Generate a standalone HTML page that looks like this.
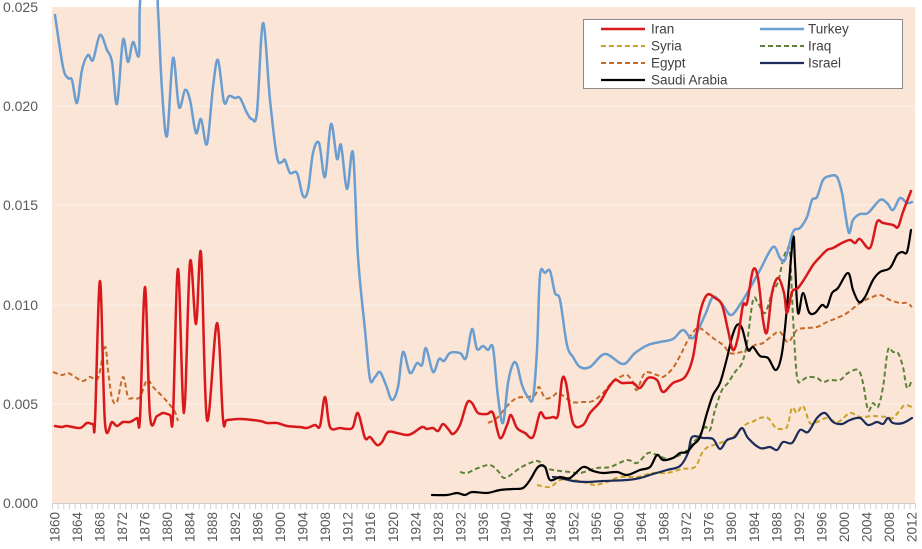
<!DOCTYPE html>
<html><head><meta charset="utf-8"><style>
html,body{margin:0;padding:0;background:#fff;}
svg{display:block;font-family:"Liberation Sans",sans-serif;}
</style></head><body>
<svg id="chart" width="922" height="549" viewBox="0 0 922 549" xmlns="http://www.w3.org/2000/svg">
<defs>
<pattern id="tk" patternUnits="userSpaceOnUse" x="52" y="503" width="5.641" height="6">
<rect x="0" y="0" width="1" height="6" fill="#d0d0d0"/>
</pattern>
</defs>
<rect x="52" y="7" width="863" height="496" fill="#FBE5D6"/>
<g stroke="#FDF1EA" stroke-width="1">
<line x1="52" x2="915" y1="106" y2="106"/>
<line x1="52" x2="915" y1="205" y2="205"/>
<line x1="52" x2="915" y1="305" y2="305"/>
<line x1="52" x2="915" y1="404" y2="404"/>
</g>
<line x1="52" x2="915" y1="503.5" y2="503.5" stroke="#d0d0d0" stroke-width="1"/>
<rect x="52" y="503" width="864" height="6" fill="url(#tk)"/>
<g font-size="14" fill="#595959" text-anchor="end">
<text x="38" y="12">0.025</text>
<text x="38" y="111">0.020</text>
<text x="38" y="210">0.015</text>
<text x="38" y="310">0.010</text>
<text x="38" y="409">0.005</text>
<text x="38" y="508">0.000</text>
</g>
<g font-size="13.5" fill="#595959" text-anchor="end" dominant-baseline="central">
<text transform="translate(54.8,512) rotate(-90)">1860</text>
<text transform="translate(77.4,512) rotate(-90)">1864</text>
<text transform="translate(99.9,512) rotate(-90)">1868</text>
<text transform="translate(122.5,512) rotate(-90)">1872</text>
<text transform="translate(145.1,512) rotate(-90)">1876</text>
<text transform="translate(167.6,512) rotate(-90)">1880</text>
<text transform="translate(190.2,512) rotate(-90)">1884</text>
<text transform="translate(212.7,512) rotate(-90)">1888</text>
<text transform="translate(235.3,512) rotate(-90)">1892</text>
<text transform="translate(257.9,512) rotate(-90)">1896</text>
<text transform="translate(280.4,512) rotate(-90)">1900</text>
<text transform="translate(303.0,512) rotate(-90)">1904</text>
<text transform="translate(325.6,512) rotate(-90)">1908</text>
<text transform="translate(348.1,512) rotate(-90)">1912</text>
<text transform="translate(370.7,512) rotate(-90)">1916</text>
<text transform="translate(393.3,512) rotate(-90)">1920</text>
<text transform="translate(415.8,512) rotate(-90)">1924</text>
<text transform="translate(438.4,512) rotate(-90)">1928</text>
<text transform="translate(460.9,512) rotate(-90)">1932</text>
<text transform="translate(483.5,512) rotate(-90)">1936</text>
<text transform="translate(506.1,512) rotate(-90)">1940</text>
<text transform="translate(528.6,512) rotate(-90)">1944</text>
<text transform="translate(551.2,512) rotate(-90)">1948</text>
<text transform="translate(573.8,512) rotate(-90)">1952</text>
<text transform="translate(596.3,512) rotate(-90)">1956</text>
<text transform="translate(618.9,512) rotate(-90)">1960</text>
<text transform="translate(641.5,512) rotate(-90)">1964</text>
<text transform="translate(664.0,512) rotate(-90)">1968</text>
<text transform="translate(686.6,512) rotate(-90)">1972</text>
<text transform="translate(709.1,512) rotate(-90)">1976</text>
<text transform="translate(731.7,512) rotate(-90)">1980</text>
<text transform="translate(754.3,512) rotate(-90)">1984</text>
<text transform="translate(776.8,512) rotate(-90)">1988</text>
<text transform="translate(799.4,512) rotate(-90)">1992</text>
<text transform="translate(822.0,512) rotate(-90)">1996</text>
<text transform="translate(844.5,512) rotate(-90)">2000</text>
<text transform="translate(867.1,512) rotate(-90)">2004</text>
<text transform="translate(889.7,512) rotate(-90)">2008</text>
<text transform="translate(912.2,512) rotate(-90)">2012</text>
</g>
<g id="series" fill="none" stroke-linejoin="round" stroke-linecap="round">
<!-- Egypt -->
<polyline stroke="#C46A2B" stroke-width="2" stroke-dasharray="5,3" stroke-linecap="butt" points="53,372 62,375 68,373 75,377 83,381 90,377 98,378 105,347 108,370 112,398 117,402 123,377 128,397 133,398 140,397 147,380 153,387 163,397 170,405 175,412 178,421"/>
<polyline stroke="#C46A2B" stroke-width="2" stroke-dasharray="5,3" stroke-linecap="butt" points="488,423 497,418 508,405 517,398 527,397 535,395 539,387 545,398 552,397 557,393 562,395 572,402 583,402 593,401 603,393 613,381 620,377 627,375 633,382 637,390 645,373 657,375 663,377 673,368 682,352 688,340 697,328 703,330 713,338 723,345 730,353 737,353 747,350 755,345 763,343 773,335 780,332 788,342 797,330 807,328 817,327 827,322 837,318 847,313 860,303 870,298 880,295 890,300 900,303 907,303 912,307"/>
<!-- Syria -->
<polyline stroke="#C9A227" stroke-width="2" stroke-dasharray="5,3" stroke-linecap="butt" points="537,485 550,487 560,480 573,480 587,483 595,485 607,482 620,477 637,477 653,473 667,473 682,469 695,467 702,453 708,447 720,443 733,437 745,425 752,422 760,418 768,418 775,427 780,429 787,427 792,408 797,413 803,406 810,423 817,422 827,418 838,422 850,413 860,417 873,416 887,417 893,418 900,410 905,405 912,407"/>
<!-- Iraq -->
<polyline stroke="#5E823A" stroke-width="2" stroke-dasharray="5,3" stroke-linecap="butt" points="460,472 467,473 478,468 490,465 498,471 505,478 520,468 530,463 538,461 545,467 553,470 570,472 580,473 597,468 610,467 627,460 637,463 648,453 657,455 667,459 675,457 685,452 692,443 698,438 705,427 710,430 715,410 722,390 728,383 735,372 742,363 747,343 753,300 758,303 765,313 772,293 778,282 783,260 787,250 790,253 793,317 797,377 802,380 808,377 817,378 823,382 830,380 840,380 848,373 858,370 863,383 868,410 873,403 878,407 883,387 888,350 893,352 898,353 903,367 907,388 912,380"/>
<!-- Israel -->
<polyline stroke="#1C2B5A" stroke-width="2.2" points="553,477 560,478 573,481 587,482 603,481 627,480 640,478 653,474 667,470 680,466 688,453 692,437 703,438 713,439 720,449 727,440 735,437 742,428 748,438 760,448 770,447 777,450 783,442 792,443 800,430 808,432 817,418 825,413 833,422 842,424 850,420 860,418 868,425 877,422 883,424 888,418 893,423 903,423 912,418"/>
<!-- Saudi Arabia -->
<polyline stroke="#000000" stroke-width="2.2" points="432,495 447,495 457,493 465,495 472,492 487,493 500,490 513,489 523,488 530,480 538,467 545,467 550,480 560,477 570,478 583,467 593,471 603,473 617,472 627,475 640,470 650,467 657,455 663,460 673,458 680,453 687,452 693,445 700,437 707,413 713,395 720,383 727,358 732,337 737,325 742,328 748,350 753,347 760,356 768,358 776,370 782,353 787,307 793,238 795,263 798,313 803,293 809,312 815,313 822,305 827,307 832,293 838,288 848,273 853,290 859,302 865,297 873,280 880,272 890,268 897,255 902,252 907,252 911,230"/>
<!-- Turkey -->
<polyline stroke="#6A9DD0" stroke-width="2.5" points="55,15 63,67 68,78 72,80 77,103 82,70 88,55 93,60 100,35 107,50 112,62 117,104 123,40 128,62 133,42 139,55 141,-5 156,-5 158,10 162,90 167,136 173,58 179,107 185,90 190,100 196,133 201,119 207,144 213,87 218,60 224,102 229,96 235,98 240,98 247,113 252,119 257,112 263,23 270,100 277,157 282,162 285,160 290,173 297,173 303,196 308,190 313,153 319,143 325,177 331,124 337,159 341,145 347,189 353,153 358,257 365,330 370,379 375,377 380,372 386,385 392,400 398,387 403,352 410,373 417,363 422,365 426,348 433,372 439,359 444,361 450,353 460,353 466,358 472,329 477,349 483,346 488,350 493,348 498,397 503,423 508,383 513,364 517,365 522,385 528,397 533,398 537,350 540,275 545,273 550,271 555,293 560,300 567,345 573,357 580,367 590,367 605,354 623,364 635,353 648,345 660,342 673,339 683,330 693,338 705,315 713,297 722,304 731,315 741,303 750,288 760,270 773,247 780,258 785,260 793,232 800,228 807,217 812,200 817,197 823,180 830,176 837,177 842,193 845,212 849,233 853,220 860,214 868,213 880,200 887,203 893,210 900,198 907,203 912,202"/>
<!-- Iran -->
<polyline stroke="#D9181C" stroke-width="2.5" points="55,426 62,427 67,426 80,428 87,423 93,424 95,421 100,281 105,423 112,422 117,426 123,422 130,422 137,418 140,418 145,287 150,416 157,416 163,413 170,415 173,416 178,269 184,413 190,262 196,324 201,253 207,420 217,323 223,419 227,420 240,419 260,421 267,423 277,423 287,426 300,427 307,428 315,425 320,426 325,397 330,427 340,428 348,429 353,427 358,413 365,438 370,437 377,445 382,442 388,432 397,433 407,435 413,433 422,427 427,429 433,428 438,431 443,424 449,430 453,434 460,425 467,403 472,403 478,413 487,414 493,413 500,438 507,425 511,415 517,428 525,433 533,437 540,413 545,418 553,417 558,415 562,380 566,383 573,423 583,425 590,413 600,402 607,390 615,380 622,383 633,383 640,388 648,378 657,380 663,392 673,383 685,377 693,357 700,313 707,295 715,298 722,305 728,330 733,350 738,337 743,305 747,303 753,270 758,278 763,320 767,332 772,293 778,278 784,293 787,313 792,292 798,288 805,278 813,265 820,257 827,250 833,248 842,243 850,240 855,243 860,239 870,248 877,222 883,223 893,225 898,227 903,212 911,191"/>
</g>
<!-- Legend -->
<rect x="583.5" y="19.5" width="319" height="69" fill="#ffffff" stroke="#8a8a8a" stroke-width="1"/>
<g stroke-width="2.5" fill="none">
<line x1="601" x2="645" y1="29" y2="29" stroke="#D9181C"/>
<line x1="760" x2="804" y1="29" y2="29" stroke="#6A9DD0"/>
<line x1="601" x2="645" y1="46" y2="46" stroke="#C9A227" stroke-width="2" stroke-dasharray="5,3"/>
<line x1="760" x2="804" y1="46" y2="46" stroke="#5E823A" stroke-width="2" stroke-dasharray="5,3"/>
<line x1="601" x2="645" y1="63" y2="63" stroke="#C46A2B" stroke-width="2" stroke-dasharray="5,3"/>
<line x1="760" x2="804" y1="63" y2="63" stroke="#1C2B5A" stroke-width="2.2"/>
<line x1="601" x2="645" y1="80" y2="80" stroke="#000000" stroke-width="2.2"/>
</g>
<g font-size="13.5" fill="#404040" dominant-baseline="central">
<text x="651" y="29">Iran</text>
<text x="808" y="29">Turkey</text>
<text x="651" y="46">Syria</text>
<text x="808" y="46">Iraq</text>
<text x="651" y="63">Egypt</text>
<text x="808" y="63">Israel</text>
<text x="651" y="80">Saudi Arabia</text>
</g>
</svg>
<script>
(function(){
  var NS="http://www.w3.org/2000/svg";
  var pls=document.querySelectorAll("#series polyline");
  for(var k=0;k<pls.length;k++){
    var pl=pls[k];
    var nums=pl.getAttribute("points").trim().split(/[\s,]+/).map(Number);
    var p=[];
    for(var i=0;i<nums.length;i+=2)p.push([nums[i],nums[i+1]]);
    if(p.length<2)continue;
    var t=1/6;
    var d="M"+p[0][0]+","+p[0][1];
    for(var i=0;i<p.length-1;i++){
      var p0=p[i>0?i-1:i],p1=p[i],p2=p[i+1],p3=p[i+2<p.length?i+2:i+1];
      var c1x=p1[0]+(p2[0]-p0[0])*t,c1y=p1[1]+(p2[1]-p0[1])*t;
      var c2x=p2[0]-(p3[0]-p1[0])*t,c2y=p2[1]-(p3[1]-p1[1])*t;
      d+=" C"+c1x.toFixed(2)+","+c1y.toFixed(2)+" "+c2x.toFixed(2)+","+c2y.toFixed(2)+" "+p2[0]+","+p2[1];
    }
    var path=document.createElementNS(NS,"path");
    for(var a=0;a<pl.attributes.length;a++){
      var at=pl.attributes[a];
      if(at.name!=="points")path.setAttribute(at.name,at.value);
    }
    path.setAttribute("d",d);
    pl.parentNode.replaceChild(path,pl);
  }
})();
</script>
</body></html>
